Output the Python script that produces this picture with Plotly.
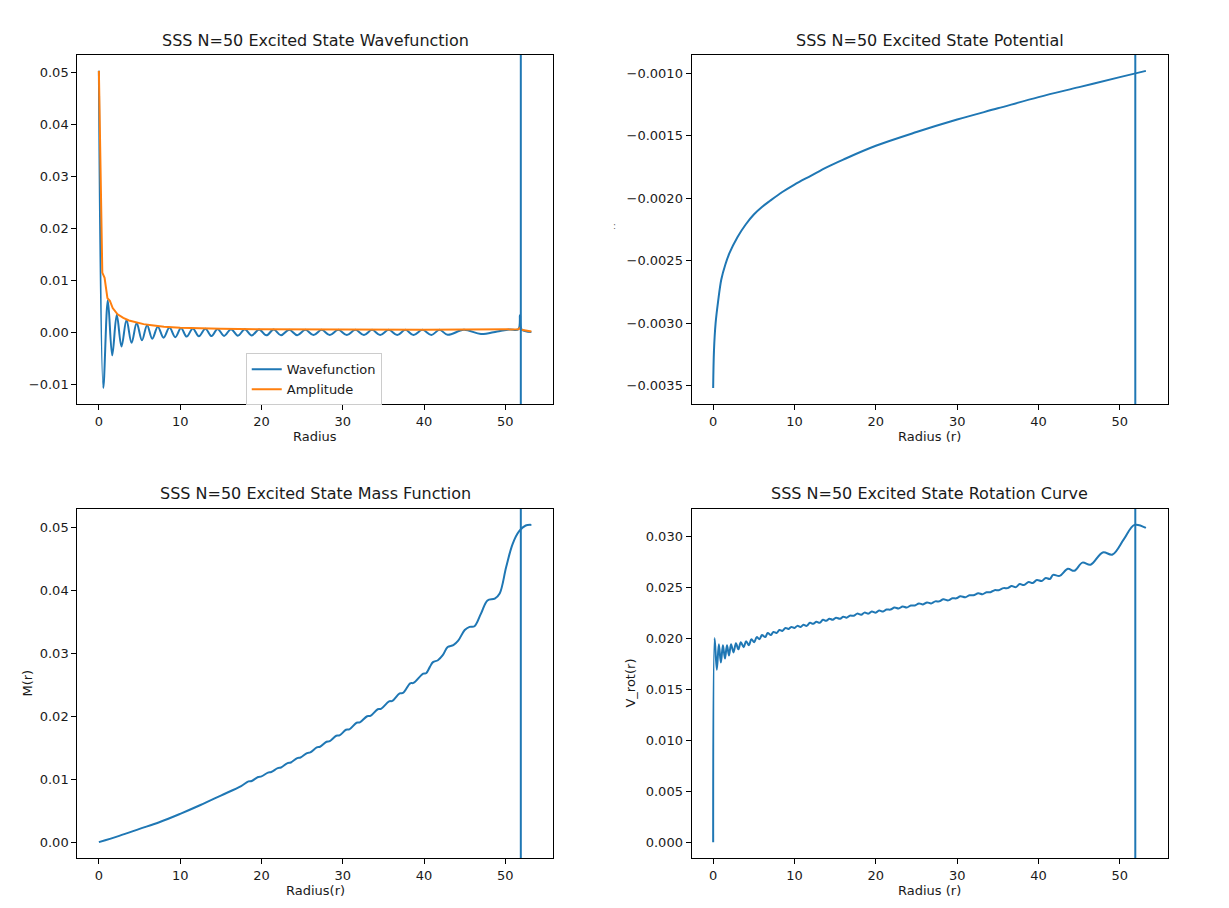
import plotly.graph_objects as go
from plotly.subplots import make_subplots

# radius where the solution is cut off (vertical marker in every panel)
r_cut = 51.9

# wavefunction, read at its turning points
wave_r = [0.0, 0.54, 1.1, 1.64, 2.2, 2.78, 3.4, 4.02, 4.65, 5.3, 5.93, 6.57, 7.25, 7.96, 8.68,
          9.4, 10.1, 10.8, 11.55, 12.3, 13.1, 13.86, 14.6, 15.4, 16.25, 17.1, 17.95, 18.8, 19.7,
          20.6, 21.5, 22.4, 23.4, 24.4, 25.4, 26.4, 27.4, 28.4, 29.45, 30.5, 31.55, 32.6, 33.6,
          34.6, 35.65, 36.7, 37.7, 38.7, 39.8, 40.9, 41.9, 42.9, 44.9, 47.0, 49.0, 50.5, 51.6,
          51.8, 52.0, 53.2]
wave_psi = [0.0503, -0.0107, 0.0062, -0.0044, 0.0034, -0.0027, 0.0024, -0.0020, 0.0018, -0.0015,
            0.0014, -0.0012, 0.0011, -0.0010, 0.00095, -0.0009, 0.00085, -0.0008, 0.00078, -0.00074,
            0.00072, -0.0007, 0.00068, -0.00066, 0.00064, -0.00062, 0.0006, -0.00058, 0.00057, -0.00056,
            0.00055, -0.00054, 0.00053, -0.00052, 0.00052, -0.00051, 0.00051, -0.0005, 0.0005, -0.0005,
            0.0005, -0.0005, 0.0005, -0.0005, 0.0005, -0.0005, 0.0005, -0.0005, 0.0005, -0.00048,
            0.0005, -0.00045, 0.0005, -0.0003, 0.0002, 0.00055, 0.0006, 0.0033, 0.0006, 0.0001]

amp_r = [0.0, 0.42, 0.7, 1.05, 1.35, 1.7, 2.3, 3.0, 3.7, 4.6, 5.5, 6.5, 8.0, 10.0, 12.0, 15.0,
         20.0, 25.0, 30.0, 35.0, 40.0, 45.0, 50.0, 51.6, 51.8, 52.0, 53.2]
amp_y = [0.0503, 0.0115, 0.0105, 0.0066, 0.0061, 0.0047, 0.0035, 0.0028, 0.0023, 0.0019, 0.0016,
         0.0014, 0.0011, 0.00092, 0.0008, 0.0007, 0.0006, 0.00056, 0.00053, 0.00052, 0.00053,
         0.00055, 0.0006, 0.0006, 0.0009, 0.0005, 0.0002]

pot_r = [0, 0.1, 0.3, 0.6, 1.0, 1.5, 2, 3, 4, 5, 6, 7, 8.5, 10, 12, 14, 16, 20, 25, 30, 35, 40,
         45, 50, 53.2]
pot_y = [-0.00352, -0.00322, -0.00300, -0.00283, -0.00265, -0.00253, -0.00244, -0.00231, -0.00221,
         -0.00213, -0.00207, -0.00202, -0.00195, -0.00189, -0.00182, -0.00175, -0.00169, -0.00158,
         -0.00147, -0.00137, -0.00128, -0.00119, -0.00111, -0.00103, -0.00098]

mass_r = [0.0, 2.5, 5.0, 7.5, 10.0, 12.5, 15.0, 17.5, 18.4, 18.8, 19.6, 20.0, 20.8, 21.2, 22.0,
          22.4, 23.2, 23.6, 24.4, 24.8, 25.6, 26.0, 26.8, 27.2, 28.0, 28.4, 29.2, 29.6, 30.4, 30.8,
          31.7, 32.1, 33.0, 33.4, 34.3, 34.7, 35.7, 36.1, 37.0, 37.4, 38.3, 38.7, 39.9, 40.25, 40.7,
          41.1, 41.7, 42.3, 42.9, 43.6, 44.2, 45.0, 45.6, 46.2, 47.0, 47.8, 48.7, 49.3, 50.1, 50.9,
          51.7, 52.5, 53.2]
mass_m = [0.0, 0.0010, 0.0021, 0.0032, 0.0045, 0.0059, 0.0074, 0.0089, 0.00965, 0.00972, 0.01035,
          0.01045, 0.01105, 0.01115, 0.01175, 0.01185, 0.01255, 0.01265, 0.01335, 0.01345, 0.01415,
          0.01425, 0.01505, 0.01515, 0.01595, 0.01605, 0.0169, 0.01696, 0.01785, 0.01791, 0.01896,
          0.01902, 0.0200, 0.02006, 0.02111, 0.02117, 0.02237, 0.02243, 0.02364, 0.0237, 0.02523,
          0.02529, 0.02677, 0.02683, 0.0278, 0.0286, 0.0289, 0.0297, 0.0310, 0.0313, 0.0320, 0.0337,
          0.0342, 0.0343, 0.0363, 0.0384, 0.0387, 0.0395, 0.0437, 0.0474, 0.0494, 0.0503, 0.0504]

rot_r = [0.0, 0.18, 0.45, 0.7, 0.95, 1.2, 1.45, 1.7, 1.95, 2.2, 2.5, 2.8, 3.1, 3.4, 3.75, 4.05,
         4.4, 4.7, 5.05, 5.35, 5.7, 6.0, 6.4, 6.7, 7.1, 7.4, 7.8, 8.15, 8.5, 8.9, 9.25, 9.6, 10.0,
         10.35, 10.75, 11.1, 11.5, 11.9, 12.3, 12.7, 13.1, 13.5, 13.9, 14.3, 14.7, 15.1, 15.6, 16.0,
         16.4, 16.8, 17.3, 17.7, 18.2, 18.6, 19.1, 19.5, 20.0, 20.4, 20.9, 21.3, 21.8, 22.3, 22.8,
         23.3, 23.8, 24.3, 24.8, 25.3, 25.8, 26.3, 26.8, 27.3, 27.8, 28.3, 28.9, 29.4, 29.9, 30.4,
         31.0, 31.5, 32.0, 32.6, 33.1, 33.6, 34.1, 34.6, 35.1, 35.7, 36.2, 36.7, 37.2, 37.7, 38.2,
         38.8, 39.3, 39.8, 40.4, 40.9, 41.4, 41.8, 42.6, 43.6, 44.4, 45.4, 46.4, 47.9, 49.1, 50.5,
         51.8, 53.2]
rot_v = [0.0, 0.0200, 0.0169, 0.0194, 0.0176, 0.0193, 0.0180, 0.0193, 0.0183, 0.0194, 0.0186,
         0.0195, 0.0189, 0.0196, 0.0191, 0.0197, 0.0193, 0.0199, 0.0196, 0.0201, 0.0199, 0.0203,
         0.0201, 0.0205, 0.0203, 0.0206, 0.0205, 0.0208, 0.0207, 0.0210, 0.0209, 0.0211, 0.0210,
         0.0212, 0.0211, 0.0213, 0.0212, 0.0215, 0.0214, 0.0216, 0.0215, 0.0218, 0.0217, 0.0219,
         0.0218, 0.0220, 0.0219, 0.0221, 0.0220, 0.0222, 0.0222, 0.0224, 0.0223, 0.0225, 0.0224,
         0.0226, 0.0225, 0.0227, 0.0226, 0.0228, 0.0228, 0.0230, 0.0229, 0.0231, 0.0230, 0.0232,
         0.0232, 0.0234, 0.0233, 0.0235, 0.0234, 0.0236, 0.0236, 0.0238, 0.0237, 0.0239, 0.0239,
         0.0241, 0.0240, 0.0242, 0.0242, 0.0244, 0.0243, 0.0245, 0.0245, 0.0247, 0.0247, 0.0249,
         0.0249, 0.0251, 0.0250, 0.0253, 0.0252, 0.0255, 0.0254, 0.0257, 0.0256, 0.0259, 0.0258,
         0.0262, 0.0261, 0.0268, 0.0266, 0.0274, 0.0272, 0.0284, 0.0282, 0.0297, 0.0311, 0.0308]

C0 = "#1f77b4"
C1 = "#ff7f0e"
FONT = "DejaVu Sans, Verdana, sans-serif"
TXT = "#1a1a1a"


def pad(vals):
    # matplotlib-style 5% autoscale margin
    lo, hi = min(vals), max(vals)
    d = (hi - lo) * 0.05
    return [lo - d, hi + d]


fig = make_subplots(rows=2, cols=2)

fig.add_trace(go.Scatter(x=wave_r, y=wave_psi, mode="lines", name="Wavefunction",
                         line=dict(color=C0, width=2, shape="spline")), row=1, col=1)
fig.add_trace(go.Scatter(x=amp_r, y=amp_y, mode="lines", name="Amplitude",
                         line=dict(color=C1, width=2)), row=1, col=1)
fig.add_trace(go.Scatter(x=pot_r, y=pot_y, mode="lines", showlegend=False,
                         line=dict(color=C0, width=2, shape="spline")), row=1, col=2)
fig.add_trace(go.Scatter(x=mass_r, y=mass_m, mode="lines", showlegend=False,
                         line=dict(color=C0, width=2, shape="spline")), row=2, col=1)
fig.add_trace(go.Scatter(x=rot_r, y=rot_v, mode="lines", showlegend=False,
                         line=dict(color=C0, width=2, shape="spline")), row=2, col=2)

# cut-off marker
for ax in ["x", "x2", "x3", "x4"]:
    yname = "y" + ax[1:]
    fig.add_shape(type="line", xref=ax, yref=yname + " domain", x0=r_cut, x1=r_cut, y0=0, y1=1,
                  line=dict(color=C0, width=2))

# page body keeps an 8px margin, so the figure is 16px smaller than the window
xdom = [[0.0571, 0.4493], [0.5635, 0.9559]]
ydom = [[0.5561, 0.9473], [0.0471, 0.4383]]
xr = pad(wave_r)
axis_style = dict(showline=True, mirror=True, linecolor="black", linewidth=1, ticks="outside",
                  ticklen=5, tickcolor="black", showgrid=False, zeroline=False,
                  tickfont=dict(family=FONT, size=13, color=TXT))

fig.update_layout(
    xaxis=dict(domain=xdom[0], range=xr, dtick=10, **axis_style),
    yaxis=dict(domain=ydom[0], range=pad(wave_psi), dtick=0.01, tickformat=".2f", **axis_style),
    xaxis2=dict(domain=xdom[1], range=xr, dtick=10, **axis_style),
    yaxis2=dict(domain=ydom[0], range=pad(pot_y), dtick=0.0005, tickformat=".4f", **axis_style),
    xaxis3=dict(domain=xdom[0], range=xr, dtick=10, **axis_style),
    yaxis3=dict(domain=ydom[1], range=pad(mass_m), dtick=0.01, tickformat=".2f", **axis_style),
    xaxis4=dict(domain=xdom[1], range=xr, dtick=10, **axis_style),
    yaxis4=dict(domain=ydom[1], range=pad(rot_v), dtick=0.005, tickformat=".3f", **axis_style),
)

titles = [
    ("SSS N=50 Excited State Wavefunction", 0.2532, 0.9641),
    ("SSS N=50 Excited State Potential", 0.7597, 0.9641),
    ("SSS N=50 Excited State Mass Function", 0.2532, 0.4552),
    ("SSS N=50 Excited State Rotation Curve", 0.7597, 0.4552),
]
for text, x, y in titles:
    fig.add_annotation(text=text, x=x, y=y, xref="paper", yref="paper", showarrow=False,
                       xanchor="center", yanchor="middle",
                       font=dict(family=FONT, size=16, color=TXT))

labels = [
    ("Radius", 0.2532, 0.5191, 0),
    ("Radius (r)", 0.7597, 0.5191, 0),
    ("Radius(r)", 0.2532, 0.0101, 0),
    ("Radius (r)", 0.7597, 0.0101, 0),
    ("M(r)", 0.0157, 0.2427, -90),
    ("V_rot(r)", 0.5128, 0.2427, -90),
]
for text, x, y, rot in labels:
    fig.add_annotation(text=text, x=x, y=y, xref="paper", yref="paper", showarrow=False,
                       xanchor="center", yanchor="middle", textangle=rot,
                       font=dict(family=FONT, size=13, color=TXT))

# the potential panel's y label renders as a tiny colon
fig.add_annotation(text=":", x=0.5004, y=0.7556, xref="paper", yref="paper", showarrow=False,
                   xanchor="center", yanchor="middle", font=dict(family=FONT, size=9, color="#666"))

fig.update_layout(
    width=1213,
    height=892,
    margin=dict(l=0, r=0, t=0, b=0),
    paper_bgcolor="white",
    plot_bgcolor="white",
    legend=dict(x=0.196, y=0.6129, xanchor="left", yanchor="top", bgcolor="rgba(255,255,255,0.8)",
                bordercolor="#cccccc", borderwidth=1, font=dict(family=FONT, size=13, color=TXT),
                tracegroupgap=0),
)

fig.write_html("out.html")
